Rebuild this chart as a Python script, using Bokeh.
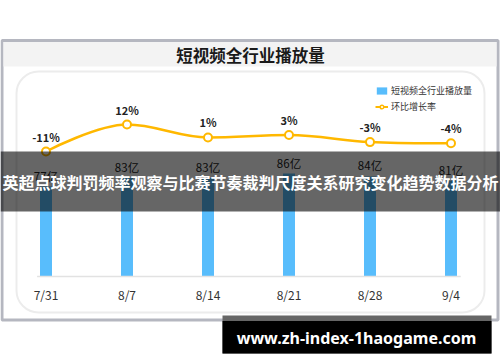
from bokeh.plotting import figure
from bokeh.models import Range1d, BoxAnnotation, Label, Legend, LegendItem
from bokeh.core.properties import value
from bokeh.embed import file_html
from bokeh.resources import INLINE

# ---- data ----
dates = ["7/31", "8/7", "8/14", "8/21", "8/28", "9/4"]
plays = [77, 83, 83, 86, 84, 81]          # 亿
rates = [-11, 12, 1, 3, -3, -4]           # %
title_text = "短视频全行业播放量"
bar_name = "短视频全行业播放量"
line_name = "环比增长率"
banner_text = "英超点球判罚频率观察与比赛节奏裁判尺度关系研究变化趋势数据分析"
watermark = "www.zh-index-1haogame.com"

FONT = "Noto Sans CJK SC"
BLUE = "#58BDFC"
AMBER = "#FFB800"
W, H = 500, 362
NAN = float("nan")

# pixel layout of the plotting area (frame covers the whole canvas)
X0_PX, CAT_PX = 5.0, 81.0          # left edge of first category, category width
BASE_PX = 276.0                    # canvas y of the bar baseline
BAR_BASE, BAR_PX = 15.0, 1.45      # bar axis value at baseline, px per unit
RATE0_PX, RATE_PX = 138.1, 1.1738  # canvas y of 0 %, px per %

xs = [i + 0.5 for i in range(len(dates))]

x_range = Range1d(-X0_PX / CAT_PX, (W - X0_PX) / CAT_PX)
y_range = Range1d(BAR_BASE - (H - BASE_PX) / BAR_PX, BAR_BASE + BASE_PX / BAR_PX)

p = figure(width=W, height=H, x_range=x_range, y_range=y_range,
           output_backend="svg", toolbar_location=None,
           x_axis_location=None, y_axis_location=None, title=None,
           min_border=0, min_border_left=0, min_border_right=0,
           min_border_top=0, min_border_bottom=0)
p.extra_y_ranges = {"rate": Range1d(-(H - RATE0_PX) / RATE_PX, RATE0_PX / RATE_PX)}
p.background_fill_color = "white"
p.border_fill_color = "white"
p.outline_line_color = None
p.xgrid.visible = False
p.ygrid.visible = False


def cbox(l, r, t, b, **kw):
    return BoxAnnotation(left=l, right=r, top=t, bottom=b,
                         left_units="canvas", right_units="canvas",
                         top_units="canvas", bottom_units="canvas", **kw)


# background decorations
p.add_layout(cbox(1.5, 497.5, 40, 319.5, fill_color="white", fill_alpha=1,
                  line_color="#b5b7c0", line_width=3, line_alpha=1, level="underlay"))
p.add_layout(cbox(3, 496, 41.5, 66, fill_color="#f3f3f3", fill_alpha=1,
                  line_color=None, level="underlay"))
p.add_layout(cbox(16, 484, 71, 312, fill_alpha=0, line_color="#ececec", line_width=2,
                  line_alpha=1, border_radius=22, level="underlay"))
p.add_layout(Label(x=250, y=54, x_units="canvas", y_units="canvas", text=title_text,
                   text_align="center", text_baseline="middle", text_font=FONT,
                   text_font_size="16.5px", text_font_style="bold", text_color="#1a1a1a"))

# bars
bars = p.vbar(x=xs, top=plays, width=0.148, bottom=BAR_BASE, fill_color=BLUE, line_color=None)
p.text(x=xs, y=plays, text=[f"{v}亿" for v in plays], y_offset=-3,
       text_align="center", text_baseline="bottom", text_font=value(FONT),
       text_font_size="11.5px", text_color="#222222")

# category axis: baseline and tick labels
p.segment(x0=[xs[0] - 0.11], x1=[xs[-1] + 0.12], y0=[BAR_BASE], y1=[BAR_BASE],
          line_color="#e2e2e2", line_width=1.5)
p.text(x=xs, y=[BAR_BASE] * len(xs), text=dates, y_offset=9,
       text_align="center", text_baseline="top", text_font=value(FONT),
       text_font_size="12px", text_color="#333333")

# smooth line through the rate points (cubic bezier segments)
n = len(rates)
m = []
for i in range(n):
    if i == 0 or i == n - 1:
        m.append(None)
    else:
        a = rates[i] - rates[i - 1]
        b = rates[i + 1] - rates[i]
        m.append(0.0 if a * b <= 0 else (rates[i + 1] - rates[i - 1]) / 2)
s = 0.36
x0, y0, x1, y1, cx0, cy0, cx1, cy1 = [], [], [], [], [], [], [], []
for i in range(n - 1):
    x0.append(xs[i]); y0.append(rates[i]); x1.append(xs[i + 1]); y1.append(rates[i + 1])
    if m[i] is None:
        cx0.append(xs[i]); cy0.append(rates[i])
    else:
        cx0.append(xs[i] + s); cy0.append(rates[i] + m[i] * s)
    if m[i + 1] is None:
        cx1.append(xs[i + 1]); cy1.append(rates[i + 1])
    else:
        cx1.append(xs[i + 1] - s); cy1.append(rates[i + 1] - m[i + 1] * s)
p.bezier(x0=x0, y0=y0, x1=x1, y1=y1, cx0=cx0, cy0=cy0, cx1=cx1, cy1=cy1,
         y_range_name="rate", line_color=AMBER, line_width=2.5)
pts = p.scatter(x=xs, y=rates, y_range_name="rate", size=8, fill_color="white",
                line_color=AMBER, line_width=2)
p.text(x=xs, y=rates, text=[f"{v}%" for v in rates], y_range_name="rate", y_offset=-7,
       text_align="center", text_baseline="bottom", text_font=value(FONT),
       text_font_size="11px", text_font_style="bold", text_color="#222222")

# legend proxies (a single NaN point: nothing drawn in the plot, only in the legend)
proxy_line = p.line(x=[NAN, NAN], y=[NAN, NAN], line_color=AMBER, line_width=2)
proxy_pt = p.scatter(x=[NAN], y=[NAN], size=6, fill_color="white", line_color=AMBER,
                     line_width=1.5)

legend = Legend(items=[LegendItem(label=bar_name, renderers=[bars]),
                       LegendItem(label=line_name, renderers=[proxy_line, proxy_pt])],
                location=(375, 249), orientation="vertical")
legend.background_fill_alpha = 0
legend.border_line_color = None
legend.padding = 0
legend.margin = 0
legend.spacing = 3
legend.glyph_width = 13
legend.glyph_height = 9
legend.label_height = 12
legend.label_standoff = 3
legend.label_text_font = FONT
legend.label_text_font_size = "9px"
legend.label_text_color = "#333333"
p.add_layout(legend)

# overlay banner
p.add_layout(cbox(0, 500, 151, 211, fill_color="black", fill_alpha=0.6, line_color=None))
p.add_layout(Label(x=250, y=181, x_units="canvas", y_units="canvas", text=banner_text,
                   text_align="center", text_baseline="middle", text_font=FONT,
                   text_font_size="16px", text_font_style="bold", text_color="white"))

# watermark
p.add_layout(cbox(222, 491, 315, 353, fill_color="#666666", fill_alpha=1, line_color=None))
p.add_layout(cbox(222, 491, 320.5, 353, fill_color="black", fill_alpha=1, line_color=None))
p.add_layout(Label(x=356, y=337, x_units="canvas", y_units="canvas", text=watermark,
                   text_align="center", text_baseline="middle", text_font="Noto Sans",
                   text_font_size="16px", text_font_style="bold", text_color="white"))

open("out.html", "w").write(file_html(p, INLINE))
